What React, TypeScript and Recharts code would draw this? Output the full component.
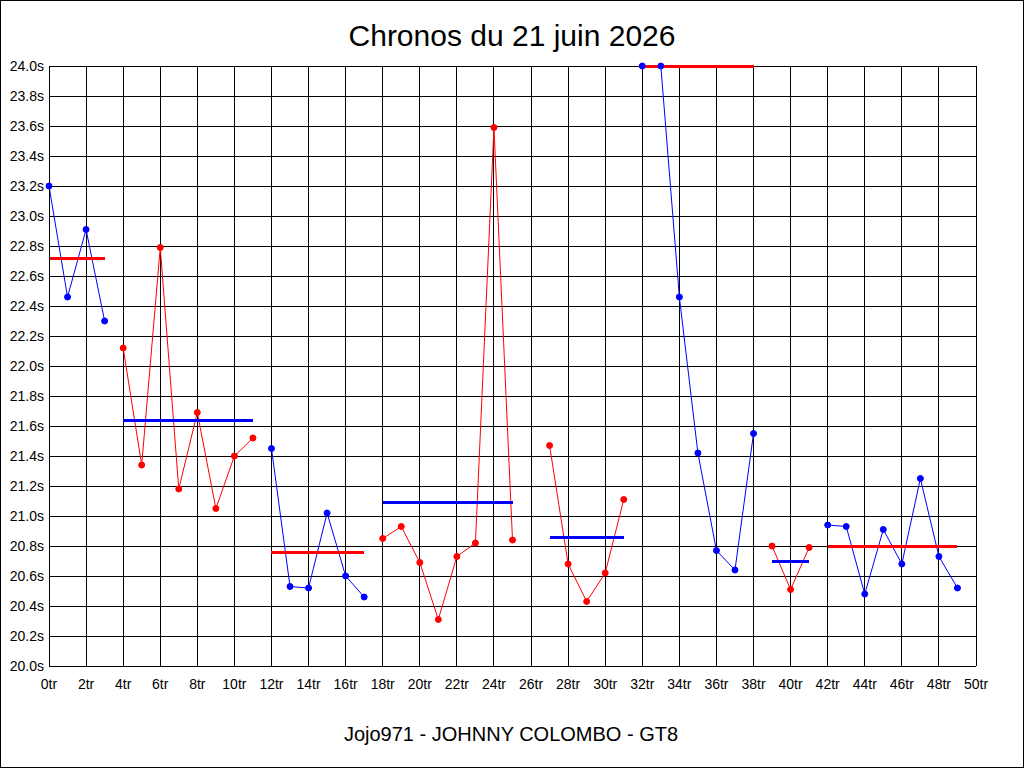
import React from "react";
import {
  LineChart,
  Line,
  XAxis,
  YAxis,
  CartesianGrid,
  ReferenceLine,
} from "recharts";

// ---- data ----
const title = "Chronos du 21 juin 2026";
const footer = "Jojo971 - JOHNNY COLOMBO - GT8";

const segStarts = [0, 4, 12, 18, 27, 32, 39, 42];
const seg0Times = [23.2, 22.46, 22.91, 22.3];
const seg1Times = [22.12, 21.34, 22.79, 21.18, 21.69, 21.05, 21.4, 21.52];
const seg2Times = [21.45, 20.53, 20.52, 21.02, 20.6, 20.46];
const seg3Times = [20.85, 20.93, 20.69, 20.31, 20.73, 20.82, 23.59, 20.84];
const seg4Times = [21.47, 20.68, 20.43, 20.62, 21.11];
const seg5Times = [24.0, 24.0, 22.46, 21.42, 20.77, 20.64, 21.55];
const seg6Times = [20.8, 20.51, 20.79];
const seg7Times = [20.94, 20.93, 20.48, 20.91, 20.68, 21.25, 20.73, 20.52];
const segAverages = [22.72, 21.64, 20.76, 21.09, 20.86, 24.0, 20.7, 20.8];

const xTicks = [0, 2, 4, 6, 8, 10, 12, 14, 16, 18, 20, 22, 24, 26, 28, 30, 32, 34, 36, 38, 40, 42, 44, 46, 48, 50];
const yTicks = [20.0, 20.2, 20.4, 20.6, 20.8, 21.0, 21.2, 21.4, 21.6, 21.8, 22.0, 22.2, 22.4, 22.6, 22.8, 23.0, 23.2, 23.4, 23.6, 23.8, 24.0];

// ---- styles ----
const BLUE = "#0000ff";
const RED = "#ff0000";
const segColors = [BLUE, RED, BLUE, RED, RED, BLUE, RED, BLUE];
const avgColors = [RED, BLUE, RED, BLUE, BLUE, RED, BLUE, RED];
const FONT = "'Liberation Sans', Arial, sans-serif";

const segTimes = [seg0Times, seg1Times, seg2Times, seg3Times, seg4Times, seg5Times, seg6Times, seg7Times];

const table: Record<string, number | null>[] = [];
for (let lap = 0; lap < 50; lap++) {
  const row: Record<string, number | null> = { lap };
  segTimes.forEach((times, i) => {
    const idx = lap - segStarts[i];
    row[`s${i}`] = idx >= 0 && idx < times.length ? times[idx] : null;
  });
  table.push(row);
}

const tickStyle = { fill: "#000", fontSize: 14, fontFamily: FONT };

export default function App() {
  return (
    <div style={{ position: "absolute", left: 0, top: 0, width: 1024, height: 768, background: "#fff" }}>
      <style>{"svg line{shape-rendering:crispEdges}"}</style>
      <LineChart
        width={1024}
        height={768}
        data={table}
        margin={{ top: 66, right: 0, left: 0, bottom: 0 }}
      >
        <CartesianGrid stroke="#000" strokeWidth={1} yAxisId="left" />
        <XAxis
          dataKey="lap"
          type="number"
          domain={[0, 50]}
          ticks={xTicks}
          interval={0}
          height={102}
          tickLine={false}
          tickSize={0}
          tickMargin={13}
          axisLine={{ stroke: "#000" }}
          tick={tickStyle}
          tickFormatter={(v: number) => `${v}tr`}
        />
        <YAxis
          yAxisId="left"
          orientation="left"
          type="number"
          domain={[20, 24]}
          ticks={yTicks}
          interval={0}
          width={49}
          tickLine={false}
          tickSize={0}
          tickMargin={5}
          axisLine={{ stroke: "#000" }}
          tick={tickStyle}
          tickFormatter={(v: number) => `${v.toFixed(1)}s`}
        />
        <YAxis
          yAxisId="right"
          orientation="right"
          type="number"
          domain={[20, 24]}
          ticks={yTicks}
          interval={0}
          width={48}
          tickLine={false}
          tickSize={0}
          tickMargin={4}
          axisLine={{ stroke: "#000" }}
          tick={tickStyle}
          tickFormatter={(v: number) => `${v.toFixed(1)}s`}
        />
        {segTimes.map((_, i) => (
          <Line
            key={`line${i}`}
            yAxisId="left"
            type="linear"
            dataKey={`s${i}`}
            stroke={segColors[i]}
            strokeWidth={1}
            connectNulls={false}
            dot={{ r: 3, fill: segColors[i], stroke: segColors[i], strokeWidth: 1 }}
            activeDot={false}
            isAnimationActive={false}
          />
        ))}
        {segTimes.map((times, i) => (
          <ReferenceLine
            key={`avg${i}`}
            yAxisId="left"
            segment={[
              { x: segStarts[i], y: segAverages[i] },
              { x: segStarts[i] + times.length - 1, y: segAverages[i] },
            ]}
            stroke={avgColors[i]}
            strokeWidth={3}
            ifOverflow="visible"
          />
        ))}
      </LineChart>
      <svg
        width={1024}
        height={768}
        style={{ position: "absolute", left: 0, top: 0, pointerEvents: "none" }}
      >
        <rect x={0.5} y={0.5} width={1023} height={767} fill="none" stroke="#000" strokeWidth={1} />
        <text x={512} y={46} textAnchor="middle" fontSize={30} fontFamily={FONT} fill="#000">
          {title}
        </text>
        <text x={511} y={741} textAnchor="middle" fontSize={20} fontFamily={FONT} fill="#000">
          {footer}
        </text>
      </svg>
    </div>
  );
}
